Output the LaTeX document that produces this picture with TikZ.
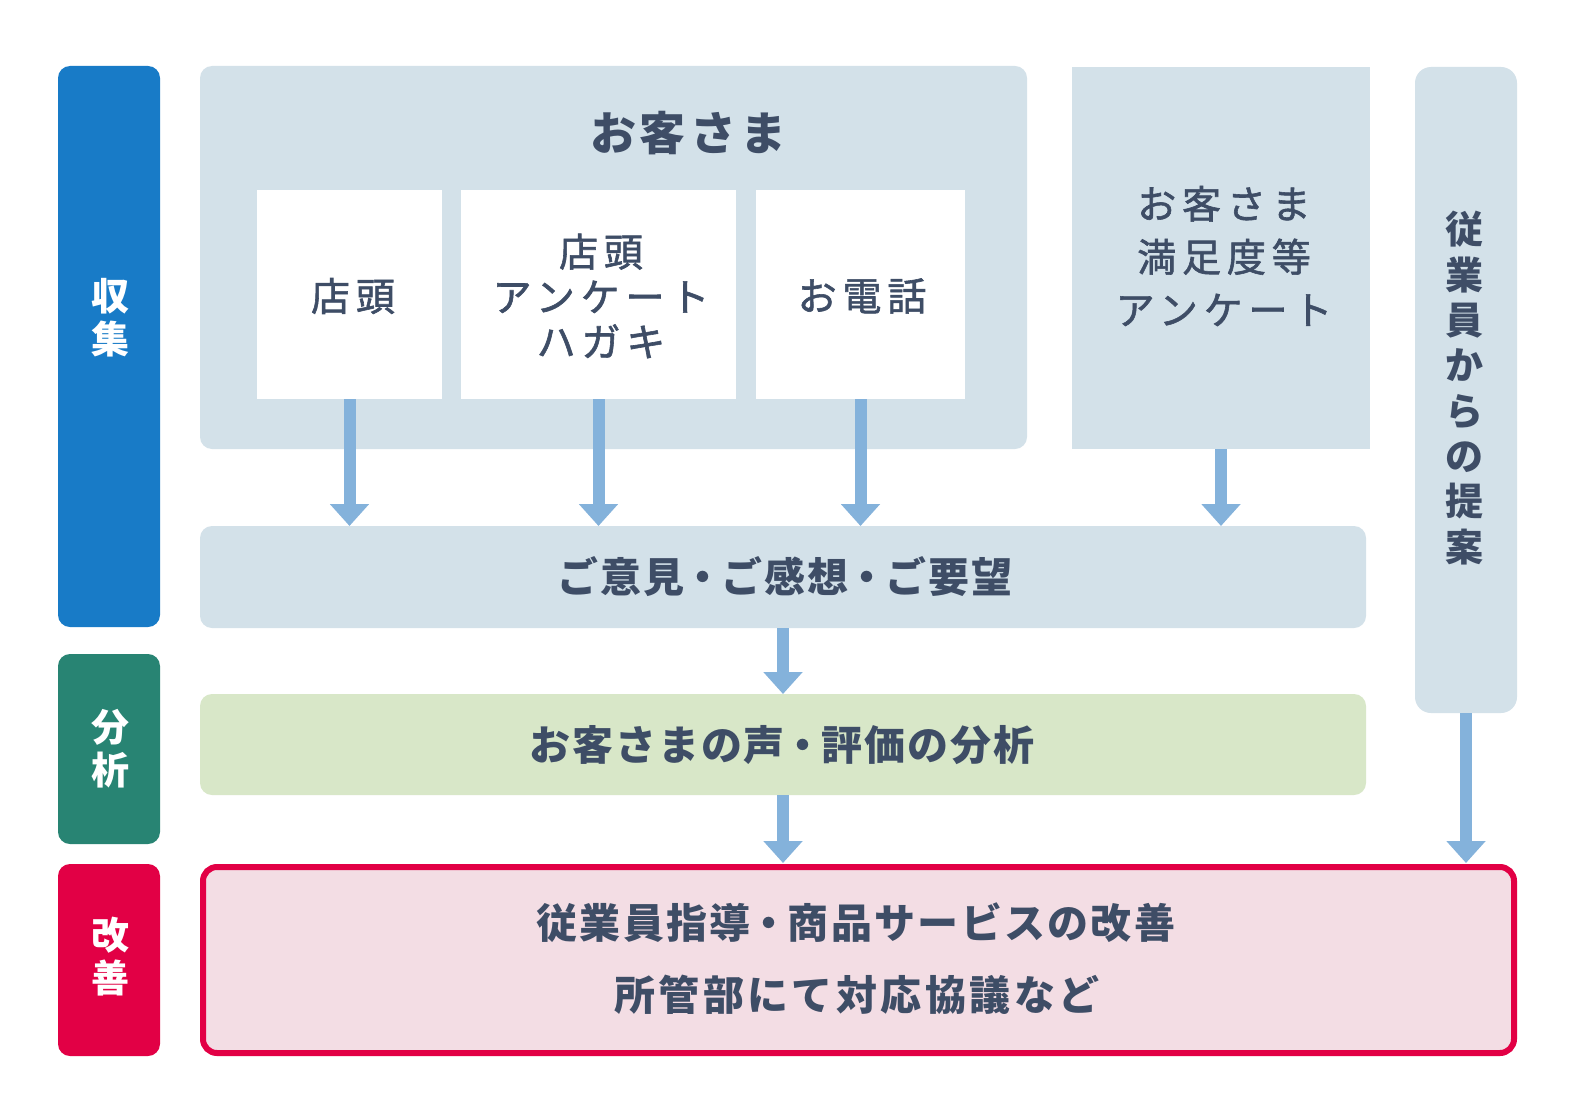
\documentclass[tikz,border=0pt]{standalone}
\usepackage{fontspec}
\usetikzlibrary{arrows.meta}
\newfontfamily\jp{Noto Sans CJK JP}
\newfontfamily\jpr[LetterSpace=15, FakeBold=1.5]{Noto Sans CJK JP}
\newcommand\ndot{\kern-2pt・\kern-2pt}
\definecolor{labblue}{HTML}{187BC7}
\definecolor{labgreen}{HTML}{288473}
\definecolor{labred}{HTML}{E20045}
\definecolor{bgray}{HTML}{D3E1E9}
\definecolor{lgreen}{HTML}{D8E7C8}
\definecolor{lpink}{HTML}{F3DDE4}
\definecolor{arrowc}{HTML}{84B2DB}
\definecolor{textc}{HTML}{3E4D66}
\begin{document}
\begin{tikzpicture}[x=1pt,y=-1pt,
  box/.style={draw=none, inner sep=0pt, outer sep=0pt, rounded corners=12pt},
  labbox/.style={box, minimum width=102pt},
  wbox/.style={draw=none, fill=white, inner sep=0pt, outer sep=0pt, minimum height=209pt},
  txt/.style={text=textc, inner sep=0pt, align=center},
  labtxt/.style={txt, text=white, font=\jp\bfseries\fontsize{38}{43}\selectfont},
  arr/.style={draw=arrowc, line width=12pt, -{Triangle[width=38pt,length=22pt]}}]
\useasboundingbox (0,0) rectangle (1579,1110);
\fill[white] (0,0) rectangle (1579,1110);
% side labels
\node[labbox, fill=labblue, minimum height=561pt] (lab1) at (109,346.5) {};
\node[labbox, fill=labgreen, minimum height=190pt] (lab2) at (109,749) {};
\node[labbox, fill=labred, minimum height=192pt] (lab3) at (109,960) {};
\node[labtxt] (lab1t) at (110,318) {収\\集};
\node[labtxt] (lab2t) at (110,749) {分\\析};
\node[labtxt] (lab3t) at (110,957) {改\\善};
% customer box
\node[box, fill=bgray, minimum width=827pt, minimum height=383pt] (cust) at (613.5,257.5) {};
\node[txt, font=\jp\bfseries\fontsize{46}{52}\selectfont\addfontfeature{LetterSpace=8.7}] (custt) at (688,133) {お客さま};
\node[wbox, minimum width=185pt] (w1) at (349.5,294.5) {};
\node[wbox, minimum width=275pt] (w2) at (598.5,294.5) {};
\node[wbox, minimum width=209pt] (w3) at (860.5,294.5) {};
\node[txt, font=\jpr\fontsize{39}{45}\selectfont] (w1t) at (353,296) {店頭};
\node[txt, font=\jpr\fontsize{39}{45}\selectfont] (w2t) at (601,296) {店頭\\アンケート\\ハガキ};
\node[txt, font=\jpr\fontsize{39}{45}\selectfont] (w3t) at (862,296) {お電話};
% survey box
\node[draw=none, fill=bgray, inner sep=0pt, outer sep=0pt, minimum width=298pt, minimum height=382pt] (surv) at (1221,258) {};
\node[txt, font=\jpr\fontsize{39}{53}\selectfont] (survt) at (1224,256) {お客さま\\満足度等\\アンケート};
% employee box
\node[box, rounded corners=16pt, fill=bgray, minimum width=102pt, minimum height=646pt] (emp) at (1466,390) {};
\node[txt, font=\jp\bfseries\fontsize{38}{45.3}\selectfont] (empt) at (1464,388) {従\\業\\員\\か\\ら\\の\\提\\案};
% opinions
\node[box, fill=bgray, minimum width=1166pt, minimum height=102pt] (op) at (783,577) {};
\node[txt, font=\jp\bfseries\fontsize{41}{44}\selectfont\addfontfeature{LetterSpace=4.9}] (opt) at (785,577) {ご意見\ndot ご感想\ndot ご要望};
% analysis
\node[box, fill=lgreen, minimum width=1166pt, minimum height=101pt] (ana) at (783,744.5) {};
\node[txt, font=\jp\bfseries\fontsize{41}{44}\selectfont\addfontfeature{LetterSpace=4.4}] (anat) at (782,745) {お客さまの声\ndot 評価の分析};
% improvement
\node[box, rounded corners=14pt, draw=labred, line width=6pt, fill=lpink, minimum width=1311pt, minimum height=186pt] (imp) at (858.5,960) {};
\node[txt, font=\jp\bfseries\fontsize{41}{44}\selectfont\addfontfeature{LetterSpace=5.6}] (imp1) at (856,923) {従業員指導\ndot 商品サービスの改善};
\node[txt, font=\jp\bfseries\fontsize{41}{44}\selectfont\addfontfeature{LetterSpace=8.5}] (imp2) at (857,995) {所管部にて対応協議など};
% arrows
\draw[arr] (w1.south) -- (w1.south |- op.north);
\draw[arr] (w2.south) -- (w2.south |- op.north);
\draw[arr] (w3.south) -- (w3.south |- op.north);
\draw[arr] (surv.south) -- (surv.south |- op.north);
\draw[arr] (op.south) -- (ana.north);
\draw[arr, shorten >=4pt] (ana.south) -- (ana.south |- imp.north);
\draw[arr, shorten >=4pt] (emp.south) -- (emp.south |- imp.north);
\end{tikzpicture}
\end{document}
